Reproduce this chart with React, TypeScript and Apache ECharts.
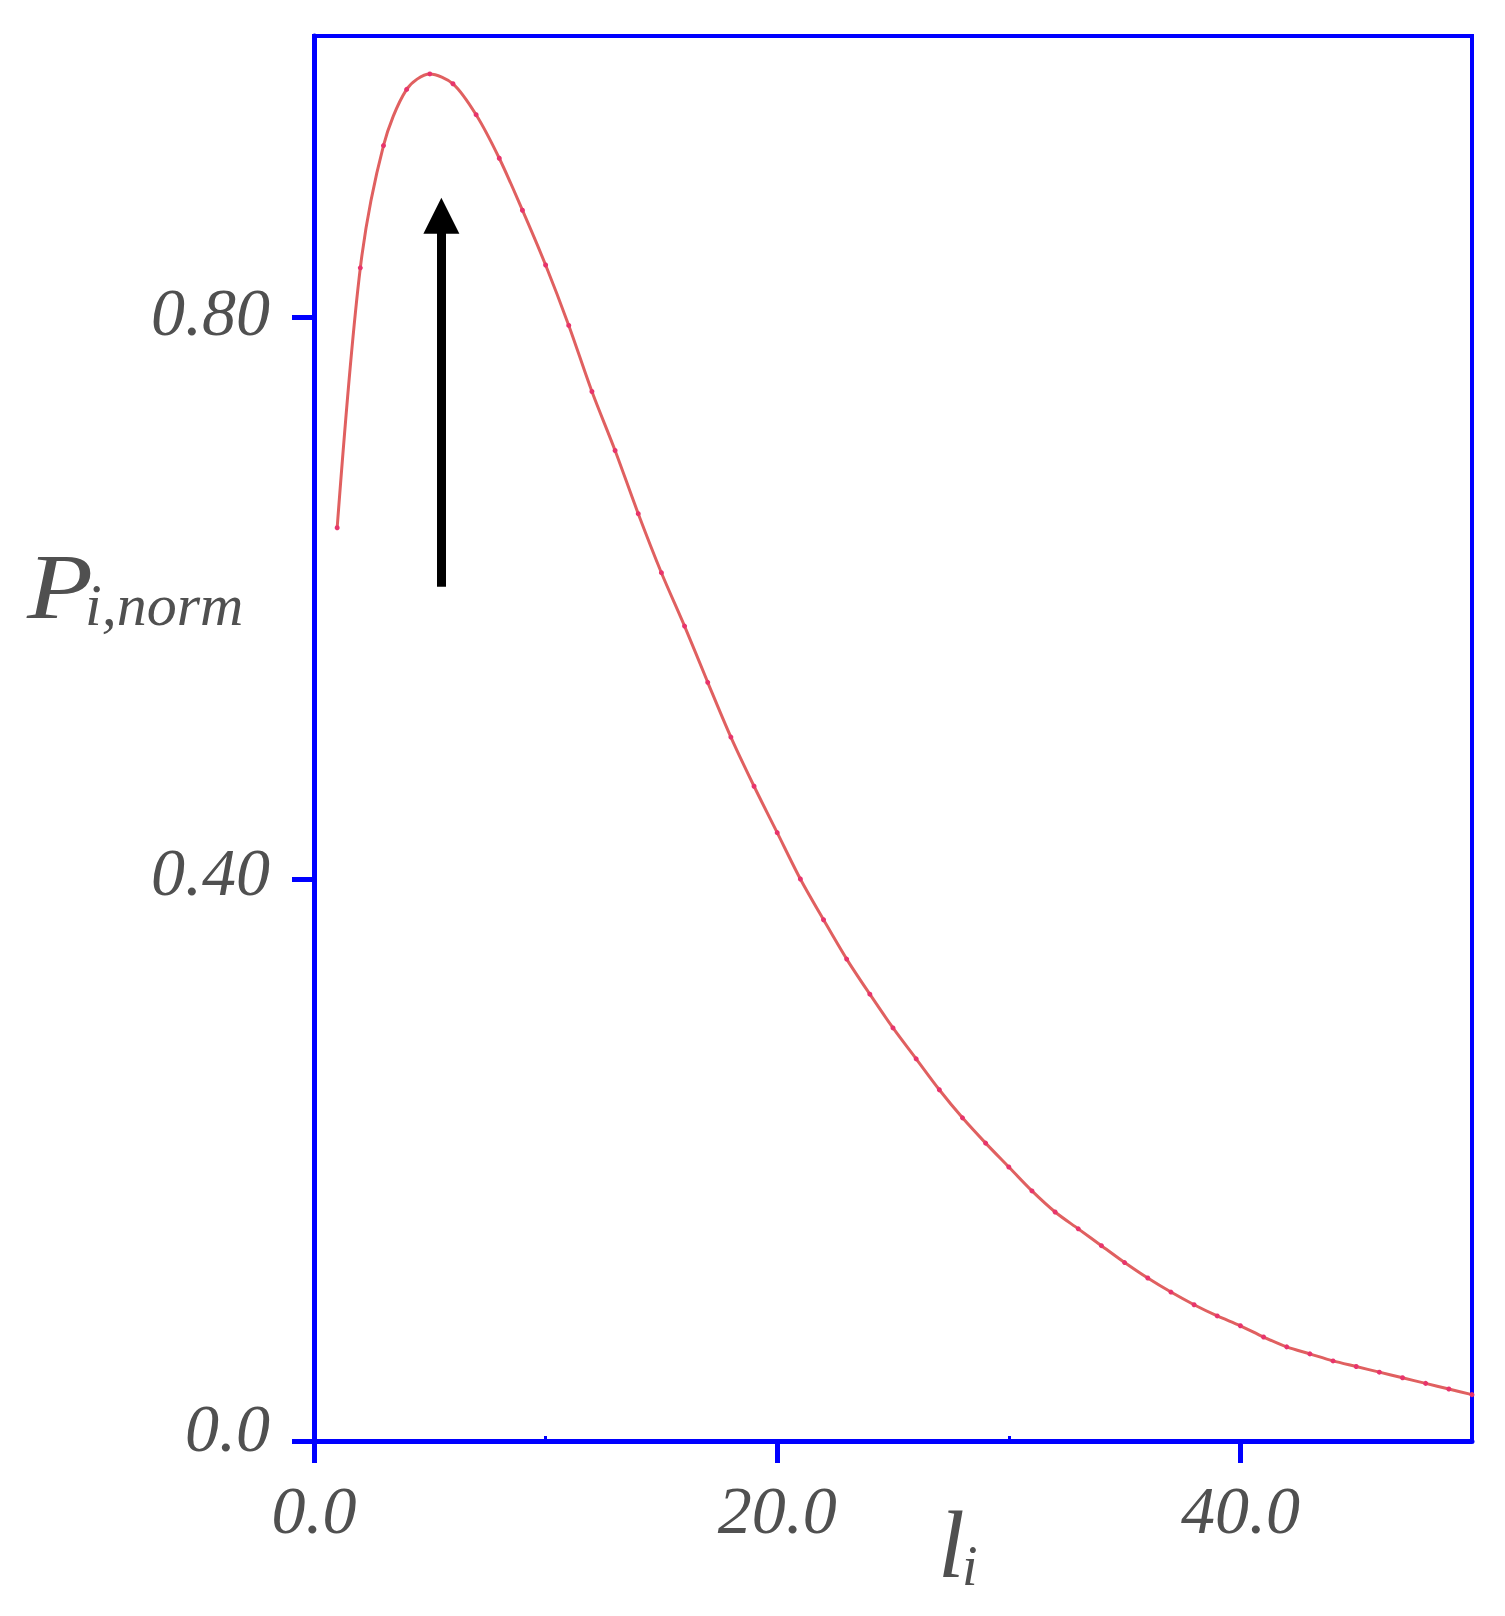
import React, { useEffect, useRef } from "react";
import * as echarts from "echarts";

// Curve data: normalized probability vs l_i
const xValues = [
  1, 2, 3, 4, 5, 6, 7, 8, 9, 10,
  11, 12, 13, 14, 15, 16, 17, 18, 19, 20,
  21, 22, 23, 24, 25, 26, 27, 28, 29, 30,
  31, 32, 33, 34, 35, 36, 37, 38, 39, 40,
  41, 42, 43, 44, 45, 46, 47, 48, 49, 50,
];
const yValues = [
  0.650, 0.835, 0.922, 0.962, 0.973, 0.966, 0.944, 0.913, 0.876, 0.837,
  0.794, 0.747, 0.705, 0.660, 0.618, 0.580, 0.540, 0.501, 0.466, 0.433,
  0.400, 0.371, 0.343, 0.318, 0.294, 0.272, 0.250, 0.230, 0.212, 0.195,
  0.178, 0.163, 0.151, 0.139, 0.127, 0.116, 0.106, 0.097, 0.089, 0.082,
  0.074, 0.067, 0.062, 0.057, 0.053, 0.049, 0.045, 0.041, 0.037, 0.033,
];

const xTickValues = [0, 20, 40];
const xTickLabels = ["0.0", "20.0", "40.0"];
const xMinorTickValues = [10, 30];
const yTickValues = [0, 0.4, 0.8];
const yTickLabels = ["0.0", "0.40", "0.80"];

// Arrow annotation (data coordinates)
const arrowX = 5.5;
const arrowFrom = 0.608;
const arrowTo = 0.872;

const FONT = "'Liberation Serif', 'Times New Roman', serif";
const TEXT_COLOR = "#505050";
const AXIS_BLUE = "#0000ff";

export default function App() {
  const ref = useRef<HTMLDivElement>(null);

  useEffect(() => {
    if (!ref.current) return;
    const chart = echarts.init(ref.current, undefined, { renderer: "svg" });

    const labelStyle = {
      fontSize: 68,
      fontStyle: "italic",
      fontFamily: FONT,
      color: TEXT_COLOR,
    };
    const yLift = ["l0", "l1", "l2"];

    chart.setOption({
      animation: false,
      backgroundColor: "#ffffff",
      grid: {
        left: 314,
        top: 36,
        right: 33,
        bottom: 175,
        show: true,
        borderColor: AXIS_BLUE,
        borderWidth: 4,
        backgroundColor: "transparent",
      },
      xAxis: [
        {
          type: "value",
          min: 0,
          max: 50,
          position: "bottom",
          axisLine: { show: true, onZero: false, lineStyle: { color: AXIS_BLUE, width: 5 } },
          axisTick: {
            show: true,
            length: 22,
            customValues: xTickValues,
            lineStyle: { color: AXIS_BLUE, width: 5 },
          },
          axisLabel: {
            ...labelStyle,
            customValues: xTickValues,
            margin: 35,
            formatter: (v: number) => {
              const i = xTickValues.indexOf(v);
              return i >= 0 ? xTickLabels[i] : "";
            },
          },
          splitLine: { show: false },
        },
        {
          type: "value",
          min: 0,
          max: 50,
          position: "bottom",
          axisLine: { show: false },
          axisTick: {
            show: true,
            inside: true,
            length: 5,
            customValues: xMinorTickValues,
            lineStyle: { color: AXIS_BLUE, width: 3 },
          },
          axisLabel: { show: false },
          splitLine: { show: false },
        },
      ],
      yAxis: {
        type: "value",
        min: 0,
        max: 1.0,
        axisLine: { show: true, onZero: false, lineStyle: { color: AXIS_BLUE, width: 5 } },
        axisTick: {
          show: true,
          length: 22,
          customValues: yTickValues,
          lineStyle: { color: AXIS_BLUE, width: 5 },
        },
        axisLabel: {
          ...labelStyle,
          customValues: yTickValues,
          margin: 44,
          formatter: (v: number) => {
            const i = yTickValues.findIndex((t) => Math.abs(t - v) < 1e-9);
            return i >= 0 ? `{${yLift[i]}|${yTickLabels[i]}}` : "";
          },
          rich: {
            l0: { ...labelStyle, padding: [0, 0, 26, 0] },
            l1: { ...labelStyle, padding: [0, 0, 14, 0] },
            l2: { ...labelStyle, padding: [0, 0, 10, 0] },
          },
        },
        splitLine: { show: false },
      },
      series: [
        {
          type: "line",
          xAxisIndex: 0,
          yAxisIndex: 0,
          data: xValues.map((x, i) => [x, yValues[i]]),
          smooth: 0.3,
          symbol: "circle",
          symbolSize: 5,
          showSymbol: true,
          itemStyle: { color: "#e8346c" },
          lineStyle: { color: "#e06060", width: 3 },
          emphasis: { disabled: true },
          markLine: {
            silent: true,
            animation: false,
            symbol: ["none", "triangle"],
            symbolSize: 36,
            label: { show: false },
            emphasis: { disabled: true },
            lineStyle: { color: "#000000", width: 9, type: "solid" },
            data: [[{ coord: [arrowX, arrowFrom] }, { coord: [arrowX, arrowTo] }]],
          },
        },
      ],
      graphic: [
        {
          type: "text",
          x: 27,
          y: 586,
          scaleX: 1.15,
          style: {
            text: "P",
            fontSize: 94,
            fontStyle: "italic",
            fontFamily: FONT,
            fill: TEXT_COLOR,
            textAlign: "left",
            textVerticalAlign: "middle",
          },
        },
        {
          type: "text",
          x: 85,
          y: 605,
          style: {
            text: "i,norm",
            fontSize: 60,
            fontStyle: "italic",
            fontFamily: FONT,
            fill: TEXT_COLOR,
            textAlign: "left",
            textVerticalAlign: "middle",
          },
        },
        {
          type: "text",
          x: 938,
          y: 1544,
          style: {
            text: "l",
            fontSize: 96,
            fontStyle: "italic",
            fontFamily: FONT,
            fill: TEXT_COLOR,
            textAlign: "left",
            textVerticalAlign: "middle",
          },
        },
        {
          type: "text",
          x: 962,
          y: 1566,
          style: {
            text: "i",
            fontSize: 56,
            fontStyle: "italic",
            fontFamily: FONT,
            fill: TEXT_COLOR,
            textAlign: "left",
            textVerticalAlign: "middle",
          },
        },
      ],
    });

    return () => chart.dispose();
  }, []);

  return (
    <div
      ref={ref}
      style={{ position: "absolute", left: 0, top: 0, width: 1505, height: 1616 }}
    />
  );
}
